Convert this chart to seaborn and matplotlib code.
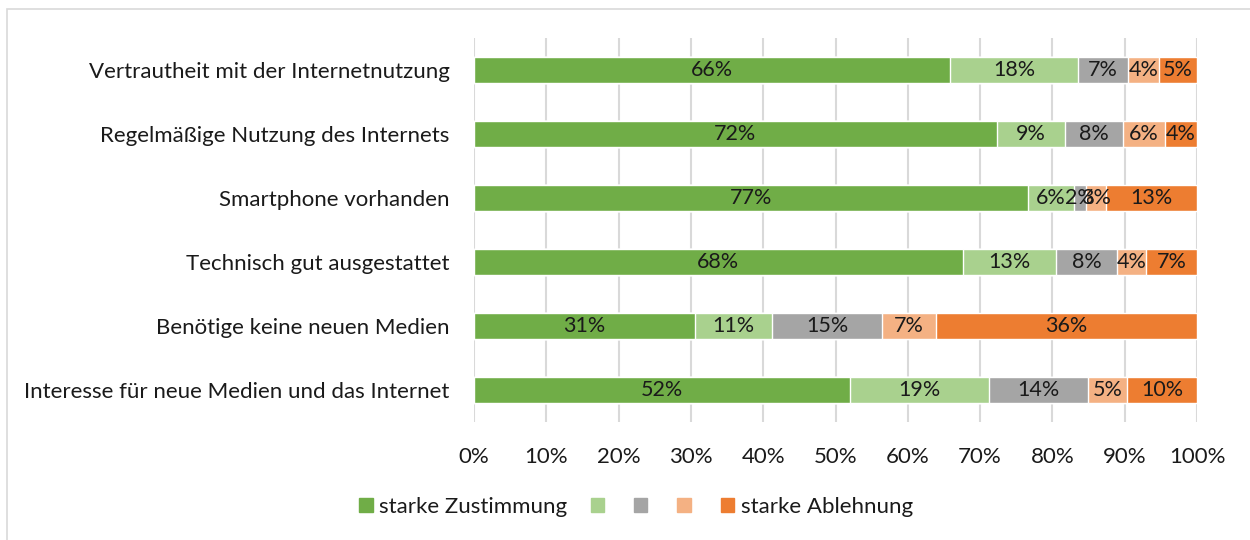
import matplotlib
matplotlib.use("Agg")
import matplotlib.pyplot as plt
import matplotlib.patches as mpatches
import seaborn as sns
import pandas as pd
import numpy as np

categories = [
    "Vertrautheit mit der Internetnutzung",
    "Regelmäßige Nutzung des Internets",
    "Smartphone vorhanden",
    "Technisch gut ausgestattet",
    "Benötige keine neuen Medien",
    "Interesse für neue Medien und das Internet",
]
series_names = ["starke Zustimmung", "", "", "", "starke Ablehnung"]
s1 = [65.8, 72.3, 76.6, 67.6, 30.6, 52.0]
s2 = [17.8, 9.4, 6.4, 12.9, 10.6, 19.2]
s3 = [6.8, 8.1, 1.6, 8.4, 15.3, 13.7]
s4 = [4.4, 5.8, 2.8, 4.1, 7.4, 5.4]
s5 = [5.2, 4.4, 12.6, 7.0, 36.1, 9.7]
colors = ["#70AD47", "#A9D18E", "#A5A5A5", "#F4B183", "#ED7D31"]
xticks = [0, 10, 20, 30, 40, 50, 60, 70, 80, 90, 100]

sns.set_theme(style="white")
plt.rcParams["font.family"] = ["Lato", "DejaVu Sans"]

series = [s1, s2, s3, s4, s5]
vals = np.array(series)
cum = np.cumsum(vals, axis=0)

fig = plt.figure(figsize=(12.5, 5.4), dpi=100)
ax = fig.add_axes([474/1250, 1-422/540, (1197-474)/1250, (422-38)/540])

# draw cumulative bars from the last series to the first so they stack visually
for i in range(len(series) - 1, -1, -1):
    df = pd.DataFrame({"cat": categories, "val": cum[i]})
    sns.barplot(data=df, x="val", y="cat", order=categories, color=colors[i],
                width=0.4, saturation=1, ax=ax, zorder=3)

# data labels
for i in range(len(series)):
    for j, c in enumerate(categories):
        v = vals[i][j]
        xc = cum[i][j] - v / 2
        ax.text(xc, j, f"{v:.0f}%", ha="center", va="center", fontsize=15.5,
                color="#1a1a1a", zorder=5)

ax.set_xlim(0, 100)
ax.set_ylim(5.5, -0.5)
ax.set_xticks(xticks)
ax.set_xticklabels([f"{t}%" for t in xticks], fontsize=16, color="#1a1a1a")
ax.tick_params(axis="x", length=0, pad=18)
ax.tick_params(axis="y", length=0, pad=17.5, labelsize=16, labelcolor="#1a1a1a")
ax.set_xlabel("")
ax.set_ylabel("")
ax.grid(axis="x", color="#D9D9D9", linewidth=1.5, zorder=0)
ax.set_axisbelow(True)
for s in ax.spines.values():
    s.set_visible(False)

handles = [mpatches.Patch(color=colors[i]) for i in range(5)]
leg = fig.legend(handles, series_names, loc="center", bbox_to_anchor=(636/1250, 1-507/540),
                 ncol=5, frameon=False, fontsize=16, handlelength=0.6, handleheight=0.6,
                 handletextpad=0.3, columnspacing=1.05)
for t in leg.get_texts():
    t.set_color("#1a1a1a")

# outer chart frame
frame = mpatches.Rectangle((7/1250, -0.05), 1.1, 1 - 9/540 + 0.05, transform=fig.transFigure,
                           fill=False, edgecolor="#D9D9D9", linewidth=1.2)
fig.patches.append(frame)

fig.savefig("out.png", dpi=100)
